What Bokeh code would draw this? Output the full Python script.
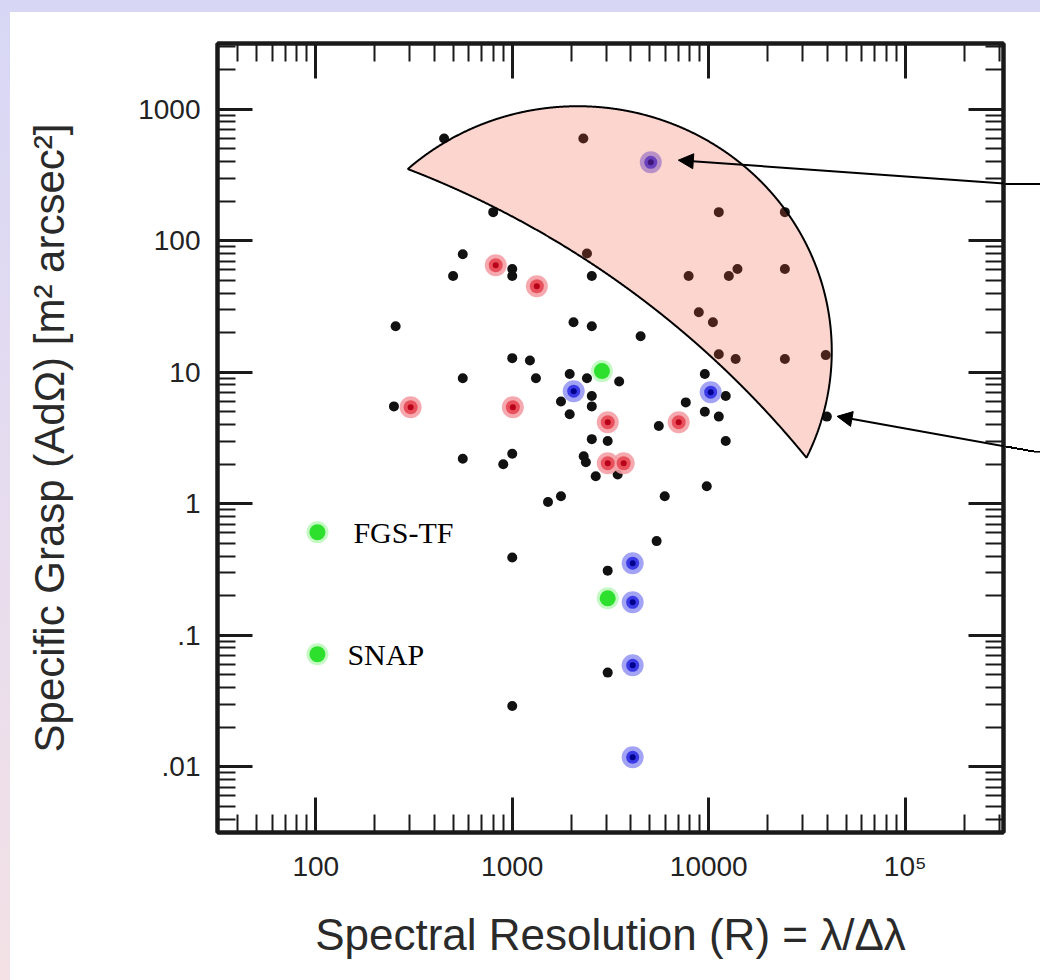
import numpy as np
from bokeh.plotting import figure
from bokeh.models import (LogAxis, FixedTicker, Arrow, NormalHead, Label, Range1d)
from bokeh.embed import file_html
from bokeh.resources import INLINE

# ---------------- data ----------------
black_R = [450, 2300, 800, 11250, 24400, 560, 2400, 500, 1000, 1000, 2540, 7900,
           12650, 14000, 24400, 8900, 10500, 255, 2050, 2540, 4500, 11250, 13700,
           24400, 39400, 1000, 1230, 560, 1320, 1960, 2400, 3500, 9550, 12200, 2540,
           2540, 7640, 1770, 1960, 5570, 9550, 11250, 39900, 2540, 3060, 12200, 2310,
           2370, 2660, 3440, 1770, 1520, 5970, 9770, 5430, 1000, 3060, 3060, 1000,
           250, 560, 900, 1000]
black_G = [600, 600, 165, 165, 165, 79, 80, 54, 61, 54, 54, 54,
           54, 61, 61, 28.6, 24, 22.4, 24, 22.4, 18.8, 13.7, 12.6,
           12.6, 13.5, 12.8, 12.3, 9.0, 9.0, 9.7, 9.0, 8.5, 9.7, 6.6, 6.6,
           5.5, 5.9, 6.0, 4.8, 3.9, 5.0, 4.6, 4.6, 3.1, 3.0, 3.0, 2.3,
           2.07, 1.62, 1.67, 1.14, 1.03, 1.14, 1.36, 0.52, 0.39, 0.31, 0.052, 0.029,
           5.5, 2.2, 2.0, 2.4]

red_R = [824, 1334, 304, 1007, 3062, 7030, 3062, 3690]
red_G = [65.2, 45.1, 5.42, 5.42, 4.17, 4.17, 2.03, 2.03]

blue_R = [5070, 2055, 10230, 4100, 4100, 4100, 4100]
blue_G = [395, 7.18, 7.05, 0.353, 0.178, 0.0591, 0.0118]

green_R = [2860, 3060, 102, 102]
green_G = [10.2, 0.191, 0.607, 0.0717]
green_names = ["", "", "FGS-TF", "SNAP"]

x_ticks = [100, 1000, 10000, 100000]
x_tick_labels = ["100", "1000", "10000", "10\u2075"]
y_ticks = [0.01, 0.1, 1, 10, 100, 1000]
y_tick_labels = [".01", ".1", "1", "10", "100", "1000"]

x_title = "Spectral Resolution (R) = \u03bb/\u0394\u03bb"
y_title = "Specific Grasp (Ad\u03a9) [m\u00b2 arcsec\u00b2]"

# highlighted crescent region: outer / inner ellipses in log10 space
outer_center = (3.333, 1.160)
outer_radii = (1.293, 1.863)
inner_center = (0.720, -4.255)
inner_radii = (4.875, 7.285)

# arrows (annotation): tail -> head in data units
arrow_x_start = [5.0e5, 5.0e5]
arrow_y_start = [260, 2.42]
arrow_x_end = [7000, 45000]
arrow_y_end = [410, 4.62]

# ---------------- geometry ----------------
W, H = 1040, 980
BL, BR, BT, BB = 217, 37, 43, 148
XLOG = (1.5, 5.5)
YLOG = (-2.5, 3.5)
FW, FH = W - BL - BR, H - BT - BB


def to_px(x, y):
    px = BL + (np.log10(x) - XLOG[0]) / (XLOG[1] - XLOG[0]) * FW
    py = BT + (YLOG[1] - np.log10(y)) / (YLOG[1] - YLOG[0]) * FH
    return px, py


# page decoration (css background): lavender strips + arrow tails outside the frame
layers = []
fr = BL + FW
for xs, ys, xe, ye in zip(arrow_x_start, arrow_y_start, arrow_x_end, arrow_y_end):
    sx, sy = to_px(xs, ys)
    ex, ey = to_px(xe, ye)
    t = (fr - sx) / (ex - sx)
    cy = sy + t * (ey - sy)
    t2 = (W - sx) / (ex - sx)
    sy2 = sy + t2 * (ey - sy)
    wbox = W - fr
    hbox = abs(sy2 - cy)
    if hbox < 3:
        layers.append("linear-gradient(#000,#000) %.1fpx %.1fpx / %.1fpx 2px no-repeat"
                      % (fr, (cy + sy2) / 2 - 1, wbox))
    else:
        direction = "to top right" if sy2 > cy else "to bottom right"
        layers.append("linear-gradient(%s, transparent calc(50%% - 1px), #000 calc(50%% - 1px), "
                      "#000 calc(50%% + 1px), transparent calc(50%% + 1px)) %.1fpx %.1fpx / %.1fpx %.1fpx no-repeat"
                      % (direction, fr, min(cy, sy2), wbox, hbox))
layers.append("linear-gradient(#d7d7f5,#d7d7f5) 0 0 / 100% 12px no-repeat")
layers.append("linear-gradient(to bottom, #d7d7f5, #e6dcef 50%, #f3e1e5) 0 0 / 10px 100% no-repeat")
layers.append("#ffffff")

# ---------------- figure ----------------
p = figure(width=W, height=H, x_axis_type="log", y_axis_type="log",
           x_range=Range1d(10 ** XLOG[0], 10 ** XLOG[1]), y_range=Range1d(10 ** YLOG[0], 10 ** YLOG[1]),
           output_backend="svg", toolbar_location=None,
           min_border_left=BL, min_border_right=BR, min_border_top=BT, min_border_bottom=BB,
           styles={"background": ", ".join(layers)})
p.background_fill_color = "white"
p.border_fill_color = None
p.outline_line_color = "#1a1a1a"
p.outline_line_width = 4
p.xgrid.visible = False
p.ygrid.visible = False

# axes
x_minor = [m * 10.0 ** k for k in range(1, 6) for m in range(2, 10)]
y_minor = [m * 10.0 ** k for k in range(-3, 4) for m in range(2, 10)]


def style_axis(ax, ticks, minor, labels):
    ax.ticker = FixedTicker(ticks=ticks, minor_ticks=minor)
    ax.major_tick_in = 35
    ax.major_tick_out = 0
    ax.minor_tick_in = 18
    ax.minor_tick_out = 0
    ax.major_tick_line_width = 3
    ax.minor_tick_line_width = 2
    ax.major_tick_line_color = "#1a1a1a"
    ax.minor_tick_line_color = "#1a1a1a"
    ax.axis_line_width = 4
    ax.axis_line_color = "#1a1a1a"
    ax.major_label_overrides = {t: l for t, l in zip(ticks, labels)}
    ax.major_label_text_font = "Liberation Sans"
    ax.major_label_text_font_size = "28px"
    ax.major_label_text_color = "#222222"
    ax.axis_label_text_font = "Liberation Sans"
    ax.axis_label_text_font_size = "42px"
    ax.axis_label_text_font_style = "normal"
    ax.axis_label_text_color = "#2a2a2a"


xa = p.xaxis[0]
ya = p.yaxis[0]
style_axis(xa, x_ticks, x_minor, x_tick_labels)
style_axis(ya, y_ticks, y_minor, y_tick_labels)
xa.axis_label = x_title
ya.axis_label = y_title
xa.axis_label_text_font_size = "44px"
xa.major_label_standoff = 18
xa.axis_label_standoff = 25
ya.major_label_standoff = 17
ya.axis_label_standoff = 62

top_ax = LogAxis()
right_ax = LogAxis()
style_axis(top_ax, x_ticks, x_minor, [""] * len(x_ticks))
style_axis(right_ax, y_ticks, y_minor, [""] * len(y_ticks))
top_ax.major_label_text_font_size = "0px"
right_ax.major_label_text_font_size = "0px"
top_ax.major_label_standoff = 0
right_ax.major_label_standoff = 0
p.add_layout(top_ax, "above")
p.add_layout(right_ax, "right")

# ---------------- points ----------------
p.scatter(black_R, black_G, size=10, fill_color="#111111", line_color=None)

p.scatter(red_R, red_G, size=22, fill_color="#f4a0a6", fill_alpha=0.9, line_color=None)
p.scatter(red_R, red_G, size=14, fill_color="#e8505c", line_color=None)
p.scatter(red_R, red_G, size=6, fill_color="#b80018", line_color=None)

p.scatter(blue_R, blue_G, size=22, fill_color="#8c8cf2", fill_alpha=0.8, line_color=None)
p.scatter(blue_R, blue_G, size=13, fill_color="#3a3ae6", line_color=None)
p.scatter(blue_R, blue_G, size=6, fill_color="#00008c", line_color=None)

p.scatter(green_R, green_G, size=22, fill_color="#55ee55", fill_alpha=0.35, line_color=None)
p.scatter(green_R, green_G, size=16, fill_color="#2ee02e", line_color=None)

for gx, gy, name in zip(green_R, green_G, green_names):
    if name:
        p.add_layout(Label(x=gx, y=gy, text=name, x_offset=30 if name == "SNAP" else 36,
                           text_baseline="middle", text_align="left",
                           text_font="Liberation Serif", text_font_size="30px",
                           text_color="#000000"))

# ---------------- highlighted crescent ----------------
t = np.linspace(-np.pi, np.pi, 3000)
ou = outer_center[0] + outer_radii[0] * np.cos(t)
ov = outer_center[1] + outer_radii[1] * np.sin(t)
keep_o = ((ou - inner_center[0]) / inner_radii[0]) ** 2 + ((ov - inner_center[1]) / inner_radii[1]) ** 2 >= 1
s = np.linspace(0, np.pi / 2, 3000)
iu = inner_center[0] + inner_radii[0] * np.cos(s)
iv = inner_center[1] + inner_radii[1] * np.sin(s)
keep_i = ((iu - outer_center[0]) / outer_radii[0]) ** 2 + ((iv - outer_center[1]) / outer_radii[1]) ** 2 <= 1
pu = np.concatenate([ou[keep_o], iu[keep_i][::-1]])
pv = np.concatenate([ov[keep_o], iv[keep_i][::-1]])
p.patch(10 ** pu, 10 ** pv, fill_color="#f85840", fill_alpha=0.25,
        line_color="black", line_width=2)

# ---------------- arrows ----------------
for xs, ys, xe, ye in zip(arrow_x_start, arrow_y_start, arrow_x_end, arrow_y_end):
    p.add_layout(Arrow(end=NormalHead(size=15, fill_color="black", line_color="black"),
                       x_start=xs, y_start=ys, x_end=xe, y_end=ye,
                       line_color="black", line_width=2))

open("out.html", "w").write(file_html(p, INLINE))
